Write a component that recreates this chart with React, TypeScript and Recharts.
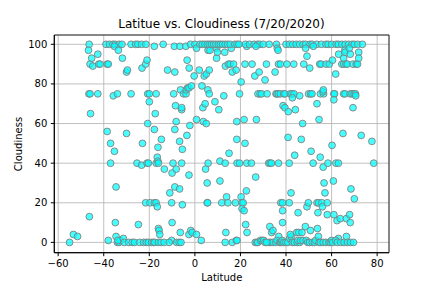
import { ScatterChart, Scatter, XAxis, YAxis, CartesianGrid, ReferenceArea } from "recharts"

// [latitude, cloudiness %]
const southern: [number, number][] = [
  [-55, 0], [-53.3, 4], [-51.5, 3], [-46.4, 100], [-46.7, 97], [-46, 90], [-45.3, 93], [-44.8, 89],
  [-46.5, 75], [-46, 75], [-45.8, 65], [-46.3, 13], [-42.6, 95], [-42.2, 90], [-41.6, 90], [-42.6, 75],
  [-39, 100], [-37.5, 100], [-36, 100], [-35, 100], [-33.3, 100], [-32, 100], [-38.5, 90], [-38, 90],
  [-38.5, 56], [-38, 1], [-37, 50], [-37, 40], [-35.3, 99], [-33.6, 97], [-35.8, 74], [-34, 75],
  [-35.3, 46], [-34.6, 28], [-34.9, 10], [-34.6, 3], [-34, 0], [-33.3, 0], [-32.8, 1], [-33.8, 1],
  [-31.8, 93], [-30, 86], [-29.6, 87], [-30, 55], [-31.4, 2], [-31, 0], [-29, 0], [-28, 100],
  [-26, 100], [-25, 100], [-23.4, 100], [-28, 75], [-27.5, 0], [-26.5, 0], [-24.2, 0], [-22.5, 0],
  [-21.3, 0], [-20.4, 0], [-25.4, 40], [-24.8, 9], [-23.2, 88], [-23, 50], [-23.4, 39], [-21.6, 90],
  [-21, 92], [-21.5, 100], [-20.7, 75], [-20, 75], [-20, 71], [-20.7, 60], [-21, 40], [-20.4, 40],
  [-21.6, 20], [-19.7, 20], [-19, 0], [-18.2, 0], [-17.6, 0], [-17.8, 99], [-17.4, 65], [-17, 75],
  [-17.8, 57], [-17, 40], [-16.5, 43], [-16.2, 41], [-16, 40], [-16.2, 48], [-14.7, 52], [-17.8, 20],
  [-17, 20], [-16.5, 18], [-16, 7], [-15.7, 6], [-15.4, 4], [-16, 0], [-14.8, 0], [-13.5, 0],
  [-13.9, 100], [-13.4, 37], [-12, 87], [-11, 25], [-10.2, 20], [-10, 10], [-10.2, 1], [-11.3, 0],
]

const tropics: [number, number][] = [
  [-9.6, 40], [-10, 35], [-9, 99], [-8.8, 86], [-9.3, 75], [-8.5, 69], [-8.8, 57], [-8.2, 61],
  [-8.8, 28], [-8.2, 37], [-8, 0], [-6.9, 0], [-6.1, 0], [-6.6, 99], [-6.7, 27], [-6.4, 5],
  [-6.3, 77], [-5.8, 67], [-5.8, 68], [-6.7, 51], [-5.8, 40], [-5.5, 47], [-5.5, 19], [-5, 75],
  [-3.9, 75], [-3.8, 77], [-3.2, 78], [-2.6, 78], [-4, 99], [-3.4, 92], [-3.5, 54], [-2.5, 88],
  [-1.9, 100], [-2.2, 59], [-2.6, 34], [-2.6, 4], [-1.8, 6], [-1.2, 5], [-1.5, 79], [-0.3, 84],
  [0, 100], [0.7, 98], [0.7, 4], [0.7, 62], [1.9, 87], [2.8, 1], [3.1, 79], [3.5, 68],
  [3.7, 61], [4.1, 84], [5, 85], [4.5, 70], [4.7, 37], [5, 60], [5.4, 30], [5.4, 20],
  [5.6, 20], [5.7, 77], [6.3, 75], [5.8, 40], [5.8, 97], [6.6, 97], [6.3, 87], [8.8, 71],
  [9.5, 98], [9.5, 93], [9.9, 96], [10.5, 67], [11, 41], [11, 31], [11.8, 20], [12.7, 74],
  [13.1, 96], [13.4, 89], [13.3, 40], [13.3, 0], [13.6, 5], [13.9, 23], [14.5, 20], [15, 45],
  [14.7, 90], [15.5, 90], [16, 98], [16.4, 86], [16.4, 0], [17, 90], [18.1, 87], [17.8, 20],
  [18.2, 1], [18.5, 1], [18.4, 61], [18.4, 52], [18.5, 40], [19.6, 40], [19.6, 75], [20.3, 81],
  [20.3, 23], [20.7, 20], [21.2, 20], [20.7, 17], [21.6, 16], [21.6, 62], [22, 50], [22, 90],
  [22.8, 99], [22.6, 26], [22.3, 9], [22.9, 5], [22.8, 40], [24.8, 40], [25.1, 90],
]

const overcast: number[] = [
  2.2, 3.3, 4.4, 5.5, 6.4, 7.3, 8.2, 9.2, 10.3, 11.2, 12.2, 13.3, 14.4, 15.5, 17.5, 18.5, 19.3,
  22.2, 24, 26, 27.5, 28.5, 30, 32.6, 35.8, 40, 41.5, 43, 44.5, 46, 47.5, 48.6, 50.5, 51.5, 53.5,
  55.5, 57.5, 58.5, 60, 62, 63, 64.5, 66, 67.5, 69, 70, 71.5, 73.5,
]

const northern: [number, number][] = [
  [26.3, 84], [26.7, 33], [27, 62], [26.5, 0], [27.2, 0], [27.6, 0], [27.7, 75], [28.6, 75],
  [29.3, 75], [28.2, 86], [28.8, 1], [29.5, 1], [30.2, 1], [26.8, 99], [30.8, 82], [31.4, 90],
  [31.7, 75], [32.4, 40], [33, 40], [33.6, 40], [32.9, 8], [33.7, 5], [34.3, 6], [32.6, 0],
  [33.3, 0], [34.3, 0], [35.5, 0], [30.8, 0], [31.5, 0], [35.2, 86], [36.2, 98], [36.5, 97],
  [35.6, 75], [36, 75], [36.6, 75], [37.5, 75], [36.7, 90], [37.5, 90], [36.7, 40], [36.8, 3],
  [36, 1], [37.2, 0], [37.7, 0], [38.2, 0], [37.7, 20], [38.5, 20], [38.5, 16], [38.5, 10],
  [38.3, 1], [39, 75], [39.5, 75], [38.7, 69], [39.5, 68], [39, 0], [39.9, 0], [40.8, 0],
  [40.4, 90], [41, 66], [40.9, 53], [41.4, 40], [41.4, 20], [41.6, 2], [42.3, 3], [41.9, 4],
  [41.9, 75], [42.6, 75], [43.5, 75], [42.8, 73], [42.2, 25], [43.4, 90], [43.8, 44], [44.1, 67],
  [44.7, 5], [45.6, 5], [45.3, 15], [42.8, 0], [43.7, 0], [44.9, 0], [46, 0], [45.2, 1],
  [46, 74], [46.7, 52], [47, 5], [46.4, 1], [47.5, 1], [48.9, 1], [47.3, 60], [47.8, 90],
  [48.6, 98], [48.5, 8], [49.2, 94], [49.2, 18], [49.8, 20], [50.4, 88], [49.9, 75], [50.8, 75],
  [51.4, 75], [50.7, 6], [51, 46], [51.9, 40], [52, 99], [49.5, 0], [50.3, 0], [51.5, 0],
  [52.5, 0], [53, 1], [53.6, 70], [53.8, 7], [53.6, 20], [54.3, 20], [54, 15], [54.2, 3],
  [54.5, 62], [55, 43], [55.1, 75], [54.8, 90], [55.4, 90], [55.7, 20], [56, 18], [56.3, 38],
  [56.5, 75], [56.2, 76], [56.4, 77], [56.7, 30], [57.1, 25], [57.6, 90], [59, 90], [58.1, 20],
  [58.1, 14], [58.4, 40], [54.5, 0], [55.1, 0], [56.3, 0], [57.5, 0], [58.8, 0], [59.5, 0],
  [60, 1], [60.2, 49], [60.4, 92], [60.8, 31], [61, 75], [61.3, 75], [61, 72], [61, 14],
  [61.8, 85], [61.9, 40], [63, 40], [62.4, 11], [63, 2], [63.1, 95], [63.8, 12], [64.5, 90],
  [65.3, 90], [65, 55], [65.3, 93], [65.8, 97], [65.3, 75], [65.9, 75], [66.3, 90], [66.9, 90],
  [65.9, 96], [66.5, 12], [66.5, 3], [67.8, 98], [67.9, 14], [68.2, 95], [68.5, 27], [68.2, 10],
  [68.2, 75], [69, 75], [69.9, 75], [70.5, 75], [69.4, 68], [70, 22], [69.4, 90], [70.8, 90],
  [71.4, 90], [70.6, 74], [60.5, 0], [61.8, 1], [62.5, 0], [64, 0], [65.5, 0], [67, 0],
  [68.3, 0], [69.6, 0], [71.9, 96], [71.9, 93], [73, 54], [77.7, 51], [78.5, 40],
]

const latTicks = [-60, -40, -20, 0, 20, 40, 60, 80]
const cloudTicks = [0, 20, 40, 60, 80, 100]

const points = [
  ...southern,
  ...tropics,
  ...overcast.map((lat) => [lat, 100] as [number, number]),
  ...northern,
].map(([lat, cloud]) => ({ lat, cloud }))

const font = "DejaVu Sans, sans-serif"
const fmt = (v: number) => (v < 0 ? "\u2212" + Math.abs(v) : String(v))

const Dot = (props: any) => (
  <circle cx={props.cx} cy={props.cy} r={3.4} fill="#00ffff" fillOpacity={0.72} stroke="#808080" strokeWidth={0.9} />
)

export default function App() {
  return (
    <div style={{ position: "absolute", left: 0, top: 0, width: 432, height: 288, background: "#fff", fontFamily: font }}>
      <div style={{ position: "absolute", left: 0, width: 443, top: 17, textAlign: "center", fontSize: 12, lineHeight: "14px", color: "#000" }}>
        Latitue vs. Cloudiness (7/20/2020)
      </div>
      <ScatterChart width={432} height={288} margin={{ top: 35, right: 43, bottom: 0, left: 0 }}>
        <CartesianGrid stroke="#b0b0b0" strokeWidth={0.8} />
        <XAxis
          type="number"
          dataKey="lat"
          domain={[-61.7, 85.2]}
          ticks={latTicks}
          allowDataOverflow
          height={35.3}
          tickFormatter={fmt}
          tickSize={3.5}
          tickMargin={3.5}
          stroke="#000"
          tick={{ fontSize: 10, fill: "#000", fontFamily: font }}
          label={{
            content: () => (
              <text x={221.8} y={281} textAnchor="middle" fontSize={10} fontFamily={font} fill="#000">
                Latitude
              </text>
            ),
          }}
        />
        <YAxis
          type="number"
          dataKey="cloud"
          domain={[-5.2, 104.7]}
          ticks={cloudTicks}
          allowDataOverflow
          width={54.3}
          tickSize={3.5}
          tickMargin={3.5}
          stroke="#000"
          tick={{ fontSize: 10, fill: "#000", fontFamily: font }}
          label={{
            content: () => (
              <text x={22} y={144} transform="rotate(-90 22 144)" textAnchor="middle" fontSize={10} fontFamily={font} fill="#000">
                Cloudiness
              </text>
            ),
          }}
        />
        <Scatter data={points} shape={Dot} isAnimationActive={false} />
        <ReferenceArea x1={-61.7} x2={85.2} y1={-5.2} y2={104.7} fill="none" stroke="#000" strokeWidth={0.8} />
      </ScatterChart>
    </div>
  )
}
